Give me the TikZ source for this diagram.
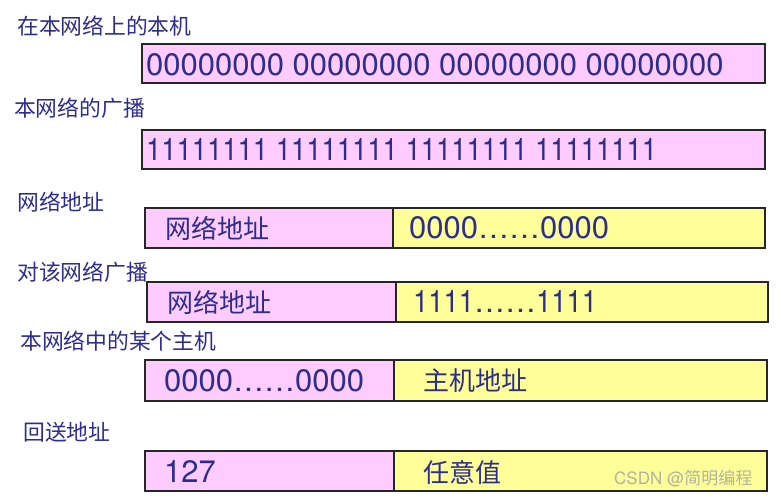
\documentclass[tikz,border=0pt]{standalone}
\usepackage{fontspec}
\usepackage{graphicx}
\setmainfont{TeX Gyre Heros}
\newfontfamily\cjk{Noto Sans CJK SC}
\definecolor{navy}{RGB}{45,45,140}
\definecolor{pinkf}{RGB}{255,204,255}
\definecolor{yelf}{RGB}{255,255,153}
\definecolor{wm}{RGB}{160,160,160}
\tikzset{
  lbl/.style={anchor=west,inner sep=0pt,text=navy,font=\cjk\fontsize{21.8}{24}\selectfont},
  bcjk/.style={anchor=west,inner sep=0pt,text=navy,font=\cjk\fontsize{26}{30}\selectfont},
  bnum/.style={anchor=west,inner sep=0pt,text=navy,font=\fontsize{31}{34}\selectfont},
  pinkbox/.style={fill=pinkf,draw=black!85,line width=1.5pt},
  yelbox/.style={fill=yelf,draw=black!85,line width=1.5pt}
}
\begin{document}
\begin{tikzpicture}[x=1pt,y=-1pt]
\useasboundingbox[fill=white] (0,0) rectangle (780,499);
% labels
\node[lbl] (l1) at (17,26) {在本网络上的本机};
\node[lbl] (l2) at (14,108) {本网络的广播};
\node[lbl] (l3) at (17,202) {网络地址};
\node[lbl] (l4) at (17,272) {对该网络广播};
\node[lbl] (l5) at (20,341) {本网络中的某个主机};
\node[lbl] (l6) at (23,432) {回送地址};
% box 1
\draw[pinkbox] (142,44) rectangle (765,83);
\node[bnum] (t1) at (146,65) {00000000 00000000 00000000 00000000};
% box 2
\draw[pinkbox] (142,130) rectangle (765,169);
\node[bnum] (t2) at (146,150) {\scalebox{0.885}[1]{11111111 11111111 11111111 11111111}};
% box 3
\draw[pinkbox] (145,208) rectangle (393,248);
\draw[yelbox] (393,208) rectangle (765,248);
\node[bcjk] (t3a) at (165,228) {网络地址};
\node[bnum] (t3b) at (409,228) {0000……0000};
% box 4
\draw[pinkbox] (147,282) rectangle (396,322);
\draw[yelbox] (396,282) rectangle (768,322);
\node[bcjk] (t4a) at (167,302) {网络地址};
\node[bnum] (t4b) at (413,302) {\scalebox{0.885}[1]{1111}……\scalebox{0.885}[1]{1111}};
% box 5
\draw[pinkbox] (145,360) rectangle (394,401);
\draw[yelbox] (394,360) rectangle (767,401);
\node[bnum] (t5a) at (164,381) {0000……0000};
\node[bcjk] (t5b) at (423,381) {主机地址};
% box 6
\draw[pinkbox] (145,451) rectangle (394,491);
\draw[yelbox] (394,451) rectangle (767,491);
\node[bnum] (t6a) at (164,472) {127};
\node[bcjk] (t6b) at (423,472) {任意值};
% watermark
\node[anchor=west,inner sep=0pt,text=wm,font=\fontsize{17}{20}\selectfont,opacity=0.8] (wmk) at (614,479) {CSDN @{\cjk 简明编程}};
\end{tikzpicture}
\end{document}
